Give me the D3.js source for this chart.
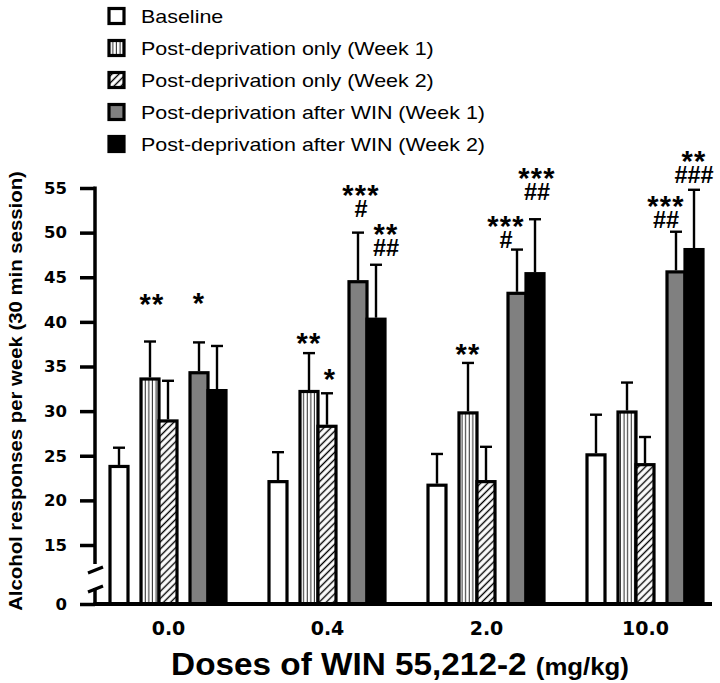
<!DOCTYPE html>
<html>
<head>
<meta charset="utf-8">
<script src="https://cdn.jsdelivr.net/npm/d3@7"></script>
<style>
  html, body { margin: 0; padding: 0; background: #fff; }
  svg { display: block; }
</style>
</head>
<body>
<div id="chart"></div>
<script>
// ---------------- data ----------------
const doses = ["0.0", "0.4", "2.0", "10.0"];
const seriesNames = [
  "Baseline",
  "Post-deprivation only (Week 1)",
  "Post-deprivation only (Week 2)",
  "Post-deprivation after WIN (Week 1)",
  "Post-deprivation after WIN (Week 2)"
];
const baseline      = [23.8, 22.1, 21.7, 25.1];
const baselineErr   = [2.1, 3.3, 3.5, 4.5];
const postOnlyW1    = [33.6, 32.2, 29.8, 29.9];
const postOnlyW1Err = [4.2, 4.3, 5.6, 3.3];
const postOnlyW2    = [28.9, 28.3, 22.1, 24.0];
const postOnlyW2Err = [4.5, 3.7, 3.9, 3.1];
const afterWinW1    = [34.3, 44.5, 43.2, 45.6];
const afterWinW1Err = [3.4, 5.5, 4.9, 4.5];
const afterWinW2    = [32.3, 40.3, 45.4, 48.1];
const afterWinW2Err = [5.0, 6.1, 6.1, 6.7];
const baselineSig   = ["", "", "", ""];
const postOnlyW1Sig = ["**", "**", "**", ""];
const postOnlyW2Sig = ["", "*", "", ""];
const afterWinW1Sig = ["*", "***|#", "***|#", "***|##"];
const afterWinW2Sig = ["", "**|##", "***|##", "**|###"];
const yTickValues = [0, 15, 20, 25, 30, 35, 40, 45, 50, 55];

const seriesValues = [baseline, postOnlyW1, postOnlyW2, afterWinW1, afterWinW2];
const seriesErrors = [baselineErr, postOnlyW1Err, postOnlyW2Err, afterWinW1Err, afterWinW2Err];
const seriesSig    = [baselineSig, postOnlyW1Sig, postOnlyW2Sig, afterWinW1Sig, afterWinW2Sig];
const seriesFill   = ["#ffffff", "url(#vstripe)", "url(#dhatch)", "#808080", "#000000"];

// annotation placement (layout only): horizontal nudge and lift above the error cap, px
const sigDx  = [[0, 0, 0, 0], [2, 0, 0, 0], [0, 3, 0, 0], [0, 3, -11, -10], [0, 10, 2, 0]];
const sigGap = [[16, 16, 16, 16], [44, 16, 15, 16], [16, 20, 16, 16], [45, 24, 10, 12], [16, 17, 27, 15]];

// ---------------- layout ----------------
const W = 720, H = 683;
const svg = d3.select("#chart").append("svg").attr("width", W).attr("height", H);
const FONT = "Liberation Sans, Arial, sans-serif";

const defs = svg.append("defs");
const vp = defs.append("pattern").attr("id", "vstripe").attr("patternUnits", "userSpaceOnUse")
  .attr("width", 3.6).attr("height", 10);
vp.append("rect").attr("width", 3.6).attr("height", 10).attr("fill", "#fff");
vp.append("line").attr("x1", 1.2).attr("x2", 1.2).attr("y1", 0).attr("y2", 10)
  .attr("stroke", "#000").attr("stroke-width", 0.9);
const dp = defs.append("pattern").attr("id", "dhatch").attr("patternUnits", "userSpaceOnUse")
  .attr("width", 5).attr("height", 5).attr("patternTransform", "rotate(45)");
dp.append("rect").attr("width", 5).attr("height", 5).attr("fill", "#fff");
dp.append("line").attr("x1", 1.5).attr("x2", 1.5).attr("y1", 0).attr("y2", 5)
  .attr("stroke", "#000").attr("stroke-width", 1.4);

// scales
const y = d3.scaleLinear().domain([0, 15, 55]).range([604, 545, 188]);
const x = d3.scalePoint().domain(doses).range([168, 645]);
const barW = 18, gap = 13;
const slot = d3.scaleOrdinal().domain(d3.range(5))
  .range(d3.range(5).map(i => -(5 * barW + 2 * gap) / 2 + i * barW + (i >= 1 ? gap : 0) + (i >= 3 ? gap : 0)));

// ---------------- y axis ----------------
const axisX = 95;
const yAxis = d3.axisLeft(y).tickValues(yTickValues).tickSize(15).tickPadding(13)
  .tickFormat(d3.format("d"));
const gy = svg.append("g").attr("transform", `translate(${axisX},0)`).call(yAxis);
gy.select(".domain").remove();
gy.selectAll(".tick line").attr("stroke", "#000").attr("stroke-width", 3.5);
gy.selectAll(".tick text").attr("font-family", "DejaVu Sans").attr("font-weight", "bold")
  .attr("font-size", 16.5).attr("fill", "#000");

function seg(x1, y1, x2, y2, sw) {
  svg.append("line").attr("x1", x1).attr("y1", y1).attr("x2", x2).attr("y2", y2)
    .attr("stroke", "#000").attr("stroke-width", sw || 3.5);
}
// broken axis
seg(axisX, y(55) - 1.5, axisX, 564);
seg(axisX, 588, axisX, y(0));
seg(88, 573, 103, 567, 3.2);
seg(88, 592, 103, 586, 3.2);

// ---------------- bars ----------------
const groups = svg.append("g");
seriesValues.forEach((vals, si) => {
  const g = groups.append("g");
  g.selectAll("rect").data(vals).join("rect")
    .attr("x", (d, i) => x(doses[i]) + slot(si))
    .attr("y", d => y(d))
    .attr("width", barW)
    .attr("height", d => y(0) - y(d))
    .attr("fill", seriesFill[si])
    .attr("stroke", "#000")
    .attr("stroke-width", 3.2);
});
// error bars
seriesValues.forEach((vals, si) => {
  const errs = seriesErrors[si];
  const g = groups.append("g");
  vals.forEach((v, i) => {
    const cx = x(doses[i]) + slot(si) + barW / 2;
    g.append("line").attr("x1", cx).attr("x2", cx).attr("y1", y(v) - 1.5).attr("y2", y(v + errs[i]))
      .attr("stroke", "#000").attr("stroke-width", 2.4);
    g.append("line").attr("x1", cx - 6).attr("x2", cx + 6).attr("y1", y(v + errs[i])).attr("y2", y(v + errs[i]))
      .attr("stroke", "#000").attr("stroke-width", 2.4);
  });
});
// significance marks (one text element per bar, lines as tspans)
seriesValues.forEach((vals, si) => {
  const errs = seriesErrors[si];
  vals.forEach((v, i) => {
    const s = seriesSig[si][i];
    if (!s) return;
    const lines = s.split("|");          // top to bottom
    const cx = x(doses[i]) + slot(si) + barW / 2 + sigDx[si][i];
    const bottomCenter = y(v + errs[i]) - sigGap[si][i];
    const n = lines.length;
    const t = svg.append("text").attr("text-anchor", "middle")
      .attr("font-family", FONT).attr("font-weight", "bold").attr("fill", "#000");
    lines.forEach((line, k) => {
      const center = bottomCenter - (n - 1 - k) * 20;
      const isStar = line[0] === "*";
      const ts = t.append("tspan").attr("x", cx).text(line);
      if (isStar) {
        ts.attr("y", center + 16).attr("font-size", 29).attr("letter-spacing", 1.2);
      } else {
        ts.attr("y", center + 8).attr("font-size", 23.5);
      }
    });
  });
});

// ---------------- x axis ----------------
seg(axisX - 1.5, y(0), 712, y(0), 3.8);
const xAxis = d3.axisBottom(x).tickSize(0).tickPadding(18);
const gx = svg.append("g").attr("transform", `translate(0,${y(0)})`).call(xAxis);
gx.select(".domain").remove();
gx.selectAll(".tick text").attr("font-family", "DejaVu Sans").attr("font-weight", "bold")
  .attr("font-size", 19).attr("fill", "#000");

// axis titles
const xt = svg.append("text").attr("transform", "translate(400,675) scale(1.075,1)")
  .attr("text-anchor", "middle")
  .attr("font-family", FONT).attr("font-weight", "bold").attr("fill", "#000");
xt.append("tspan").attr("font-size", 31).text("Doses of WIN 55,212-2 ");
xt.append("tspan").attr("font-size", 24).text("(mg/kg)");

svg.append("text").attr("transform", "translate(22,391) rotate(-90) scale(1.1,1)")
  .attr("text-anchor", "middle")
  .attr("font-family", FONT).attr("font-weight", "bold")
  .attr("font-size", 18.5).attr("fill", "#000")
  .text("Alcohol responses per week (30 min session)");

// ---------------- legend ----------------
const legend = svg.append("g");
seriesNames.forEach((name, si) => {
  const cy = 16 + si * 32;
  legend.append("rect").attr("x", 109).attr("y", cy - 7.5).attr("width", 15).attr("height", 15)
    .attr("fill", seriesFill[si]).attr("stroke", "#000").attr("stroke-width", 3.2);
  legend.append("text").attr("transform", `translate(141,${cy + 6.5}) scale(1.16,1)`)
    .attr("font-family", FONT).attr("font-size", 18.5)
    .attr("fill", "#000").text(name);
});
</script>
</body>
</html>
